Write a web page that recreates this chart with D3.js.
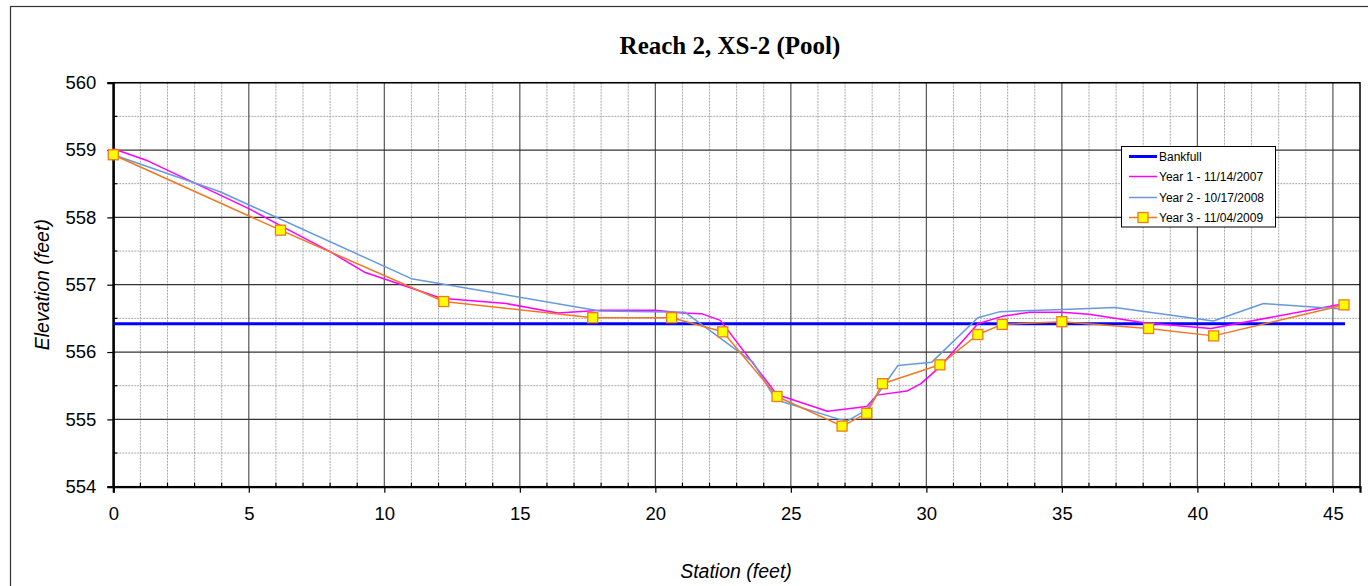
<!DOCTYPE html>
<html>
<head>
<meta charset="utf-8">
<script src="https://cdn.jsdelivr.net/npm/d3@7"></script>
<style>
  html, body { margin: 0; padding: 0; background: #fff; }
  svg { display: block; }
</style>
</head>
<body>
<svg id="chart" width="1368" height="586"></svg>
<script>
// ---- data ----
const chartTitle = "Reach 2, XS-2 (Pool)";
const xTitle = "Station (feet)";
const yTitle = "Elevation (feet)";
const xTicks = [0, 5, 10, 15, 20, 25, 30, 35, 40, 45];
const yTicks = [554, 555, 556, 557, 558, 559, 560];
const seriesNames = ["Bankfull", "Year 1 - 11/14/2007", "Year 2 - 10/17/2008", "Year 3 - 11/04/2009"];

const bankfullStation = [0, 45.45];
const bankfullElev = [556.42, 556.42];

const year1Station = [0, 1.27, 5.0, 6.2, 8.0, 9.3, 12.1, 14.5, 16.4, 18.0, 20.0, 21.0, 21.7, 22.4, 24.48, 26.35, 27.8, 28.17, 29.28, 29.8, 30.5, 31.9, 32.8, 33.8, 35.0, 36.0, 38.1, 40.5, 45.45];
const year1Elev = [559.02, 558.84, 558.13, 557.87, 557.49, 557.18, 556.80, 556.72, 556.58, 556.62, 556.62, 556.58, 556.57, 556.47, 555.37, 555.12, 555.19, 555.36, 555.42, 555.53, 555.78, 556.42, 556.53, 556.59, 556.59, 556.56, 556.43, 556.35, 556.72];

const year2Station = [0, 3.94, 11.0, 17.96, 21.1, 23.6, 24.45, 26.8, 27.1, 27.8, 28.95, 30.2, 31.9, 32.72, 35.05, 36.96, 40.59, 42.44, 45.6];
const year2Elev = [558.93, 558.38, 557.09, 556.61, 556.59, 555.85, 555.29, 555.00, 554.98, 555.14, 555.80, 555.85, 556.51, 556.60, 556.63, 556.66, 556.46, 556.72, 556.63];

const year3Station = [0, 6.17, 12.19, 17.69, 20.6, 22.49, 24.49, 26.89, 27.8, 28.38, 30.5, 31.9, 32.8, 35.0, 38.2, 40.6, 45.41];
const year3Elev = [558.93, 557.81, 556.75, 556.51, 556.51, 556.30, 555.34, 554.90, 555.09, 555.53, 555.81, 556.26, 556.41, 556.45, 556.35, 556.24, 556.70];

// ---- layout ----
const svg = d3.select("#chart");
const L = 113.3, R = 1360, T = 82.7, B = 486.7;
const x = d3.scaleLinear().domain([0, 46]).range([L, R]);
const y = d3.scaleLinear().domain([554, 560]).range([B, T]);

// outer border
svg.append("rect").attr("x", 10.5).attr("y", 6.5).attr("width", 1370).attr("height", 600)
  .attr("fill", "none").attr("stroke", "#333").attr("stroke-width", 1.2);

// title
svg.append("text").attr("x", 730).attr("y", 54).attr("text-anchor", "middle")
  .attr("font-family", "Liberation Serif, Times New Roman, serif").attr("font-weight", "bold")
  .attr("font-size", 25).text(chartTitle);

// minor grid
const minorX = d3.range(1, 46).filter(v => v % 5 !== 0);
const minorY = d3.range(554.5, 560, 1);
const grid = svg.append("g");
grid.selectAll(".mx").data(minorX).enter().append("line")
  .attr("x1", d => x(d)).attr("x2", d => x(d)).attr("y1", T).attr("y2", B)
  .attr("stroke", "#a8a8a8").attr("stroke-width", 1).attr("stroke-dasharray", "2,1");
grid.selectAll(".my").data(minorY).enter().append("line")
  .attr("x1", L).attr("x2", R).attr("y1", d => y(d)).attr("y2", d => y(d))
  .attr("stroke", "#a8a8a8").attr("stroke-width", 1).attr("stroke-dasharray", "2,1");
// major grid
grid.selectAll(".Mx").data(xTicks.concat([])).enter().append("line")
  .attr("x1", d => x(d)).attr("x2", d => x(d)).attr("y1", T).attr("y2", B)
  .attr("stroke", "#555").attr("stroke-width", 1.2);
grid.selectAll(".My").data(yTicks).enter().append("line")
  .attr("x1", L).attr("x2", R).attr("y1", d => y(d)).attr("y2", d => y(d))
  .attr("stroke", "#333").attr("stroke-width", 1.2);

// plot frame
svg.append("rect").attr("x", L).attr("y", T).attr("width", R - L).attr("height", B - T)
  .attr("fill", "none").attr("stroke", "#000").attr("stroke-width", 1.5);

// axes
const xAxis = d3.axisBottom(x).tickValues(xTicks).tickSize(6).tickPadding(14).tickFormat(d3.format("d"));
const gx = svg.append("g").attr("transform", `translate(0,${B})`).call(xAxis);
const yAxis = d3.axisLeft(y).tickValues(yTicks).tickSize(6).tickPadding(11).tickFormat(d3.format("d"));
const gy = svg.append("g").attr("transform", `translate(${L},0)`).call(yAxis);
[gx, gy].forEach(g => {
  g.select(".domain").attr("stroke", "#000").attr("stroke-width", 2.2);
  g.selectAll(".tick line").attr("stroke", "#000").attr("stroke-width", 1.2);
  g.selectAll("text").attr("font-family", "Liberation Sans, Arial, sans-serif")
    .attr("font-size", 18.5).attr("fill", "#000");
});
// minor ticks (inside)
svg.append("g").selectAll("line").data(minorX).enter().append("line")
  .attr("x1", d => x(d)).attr("x2", d => x(d)).attr("y1", B - 4).attr("y2", B)
  .attr("stroke", "#000").attr("stroke-width", 1.2);
svg.append("g").selectAll("line").data(minorY).enter().append("line")
  .attr("x1", L).attr("x2", L + 4).attr("y1", d => y(d)).attr("y2", d => y(d))
  .attr("stroke", "#000").attr("stroke-width", 1.2);

// axis titles
svg.append("text").attr("x", 736).attr("y", 578).attr("text-anchor", "middle")
  .attr("font-family", "Liberation Sans, Arial, sans-serif").attr("font-style", "italic")
  .attr("font-size", 19.5).text(xTitle);
svg.append("text").attr("transform", `translate(49,${(T + B) / 2}) rotate(-90)`).attr("text-anchor", "middle")
  .attr("font-family", "Liberation Sans, Arial, sans-serif").attr("font-style", "italic")
  .attr("font-size", 19.5).text(yTitle);

// series
const line = d3.line().x(d => x(d[0])).y(d => y(d[1]));
const zip = (a, b) => a.map((v, i) => [v, b[i]]);
const colors = ["#0000ff", "#ff00ff", "#6699dd", "#f07820"];
const widths = [3.2, 1.5, 1.5, 1.5];
const seriesData = [
  zip(bankfullStation, bankfullElev),
  zip(year1Station, year1Elev),
  zip(year2Station, year2Elev),
  zip(year3Station, year3Elev)
];
seriesData.forEach((d, i) => {
  svg.append("path").datum(d).attr("d", line).attr("fill", "none")
    .attr("stroke", colors[i]).attr("stroke-width", widths[i]).attr("stroke-linejoin", "round");
});
svg.append("g").selectAll("rect").data(seriesData[3]).enter().append("rect")
  .attr("x", d => x(d[0]) - 5).attr("y", d => y(d[1]) - 5).attr("width", 10).attr("height", 10)
  .attr("fill", "#ffff00").attr("stroke", colors[3]).attr("stroke-width", 1.3);

// legend
const lg = svg.append("g");
lg.append("rect").attr("x", 1121.5).attr("y", 146.5).attr("width", 154).attr("height", 80.5)
  .attr("fill", "#fff").attr("stroke", "#000").attr("stroke-width", 1);
const rowY = [156.5, 176.5, 197.5, 217.5];
seriesNames.forEach((name, i) => {
  lg.append("line").attr("x1", 1129).attr("x2", 1157).attr("y1", rowY[i]).attr("y2", rowY[i])
    .attr("stroke", colors[i]).attr("stroke-width", i === 0 ? 3 : 1.5);
  if (i === 3) {
    lg.append("rect").attr("x", 1138).attr("y", rowY[i] - 5).attr("width", 10).attr("height", 10)
      .attr("fill", "#ffff00").attr("stroke", colors[3]).attr("stroke-width", 1.3);
  }
  lg.append("text").attr("x", 1159).attr("y", rowY[i] + 4.3)
    .attr("font-family", "Liberation Sans, Arial, sans-serif").attr("font-size", 12).attr("fill", "#000")
    .text(name);
});
</script>
</body>
</html>
